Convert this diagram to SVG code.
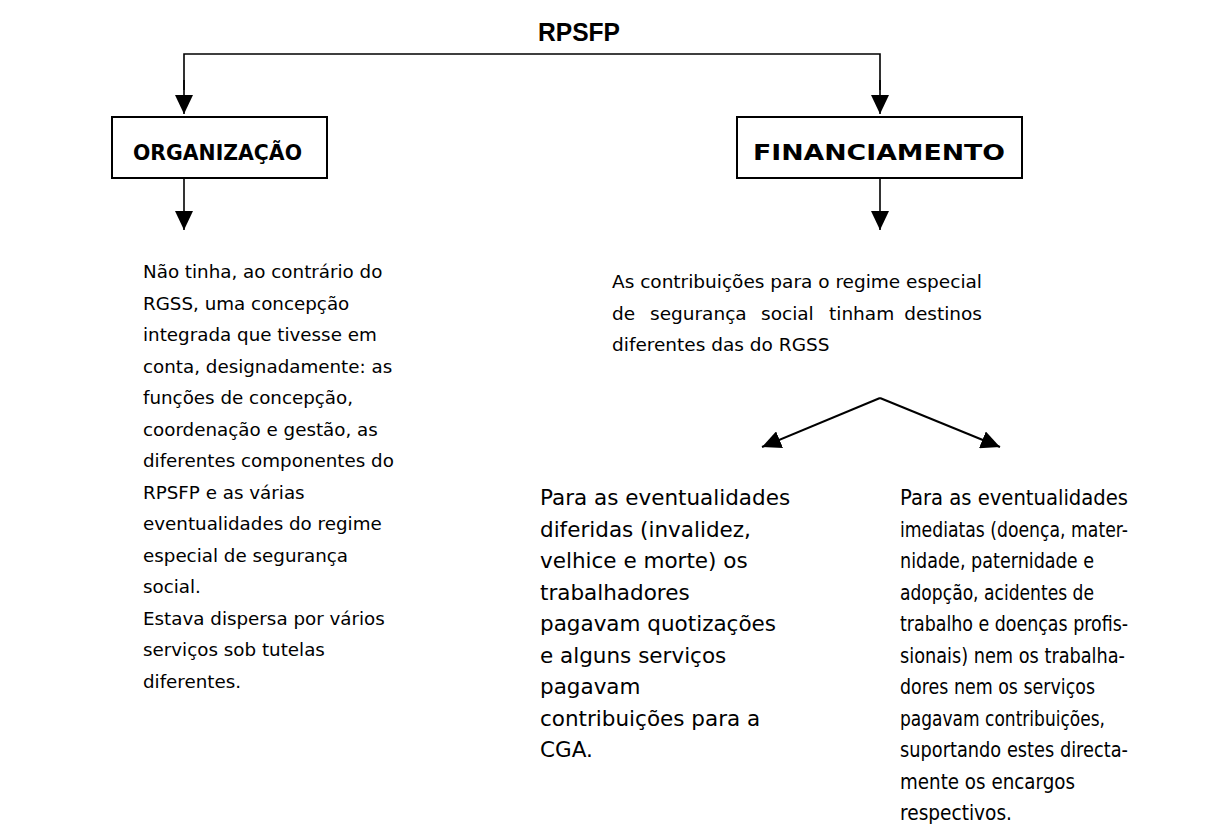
<svg xmlns="http://www.w3.org/2000/svg" width="1218" height="835" viewBox="0 0 1218 835">
<style>
.t{font-family:"DejaVu Sans","Noto Sans",sans-serif;font-size:18.3px;fill:#000}
.m{font-family:"DejaVu Sans","Noto Sans",sans-serif;font-size:18.5px;fill:#000}
.l{font-family:"DejaVu Sans","Noto Sans",sans-serif;font-size:21.5px;fill:#000}
.c{font-family:"DejaVu Sans","Noto Sans",sans-serif;font-size:21px;fill:#000}
.b{font-family:"DejaVu Sans","Noto Sans",sans-serif;font-size:22px;font-weight:bold;fill:#000}
.h{font-family:"Liberation Sans Narrow","Liberation Sans",sans-serif;font-size:26px;font-weight:bold;fill:#000}
.box{fill:#fff;stroke:#000;stroke-width:2}
.ln{fill:none;stroke:#000;stroke-width:1.6}
.ah{fill:#000}
</style>
<defs>
<marker id="arr" markerUnits="userSpaceOnUse" markerWidth="20" markerHeight="18" viewBox="0 0 20 18" refX="19" refY="9" orient="auto">
<path d="M0,0 L19,9 L0,18 Z" class="ah"/>
</marker>
</defs>
<g id="title"><text class="h" x="579" y="41" text-anchor="middle" textLength="82" lengthAdjust="spacingAndGlyphs">RPSFP</text></g>
<g id="connectors">
<path class="ln" d="M184,90 L184,54 L880,54 L880,90" />
<path class="ln" d="M184,80 L184,114" marker-end="url(#arr)"/>
<path class="ln" d="M880,80 L880,114" marker-end="url(#arr)"/>
<path class="ln" d="M184,178 L184,230" marker-end="url(#arr)"/>
<path class="ln" d="M880,178 L880,230" marker-end="url(#arr)"/>
<path class="ln" d="M880,398 L762,447" marker-end="url(#arr)" style="stroke-width:2"/>
<path class="ln" d="M880,398 L1000,447" marker-end="url(#arr)" style="stroke-width:2"/>
</g>
<g id="organizacao">
<rect class="box" x="112" y="117" width="215" height="61"/>
<text class="b" x="133" y="160" textLength="169" lengthAdjust="spacingAndGlyphs">ORGANIZAÇÃO</text>
</g>
<g id="financiamento">
<rect class="box" x="737" y="117" width="285" height="61"/>
<text class="b" x="753" y="160" textLength="252" lengthAdjust="spacingAndGlyphs">FINANCIAMENTO</text>
</g>
<g id="org-text">
<text class="t" x="143" y="278">Não tinha, ao contrário do</text>
<text class="t" x="143" y="309.5">RGSS, uma concepção</text>
<text class="t" x="143" y="341">integrada que tivesse em</text>
<text class="t" x="143" y="372.5">conta, designadamente: as</text>
<text class="t" x="143" y="404">funções de concepção,</text>
<text class="t" x="143" y="435.5">coordenação e gestão, as</text>
<text class="t" x="143" y="467">diferentes componentes do</text>
<text class="t" x="143" y="498.5">RPSFP e as várias</text>
<text class="t" x="143" y="530">eventualidades do regime</text>
<text class="t" x="143" y="561.5">especial de segurança</text>
<text class="t" x="143" y="593">social.</text>
<text class="t" x="143" y="624.5">Estava dispersa por vários</text>
<text class="t" x="143" y="656">serviços sob tutelas</text>
<text class="t" x="143" y="687.5">diferentes.</text>
</g>
<g id="fin-text">
<text class="m" x="612" y="288" textLength="370" lengthAdjust="spacing">As contribuições para o regime especial</text>
<text class="m" y="319.5"><tspan x="612">de</tspan><tspan x="650">segurança</tspan><tspan x="761">social</tspan><tspan x="829">tinham</tspan><tspan x="982" text-anchor="end">destinos</tspan></text>
<text class="m" x="612" y="351">diferentes das do RGSS</text>
</g>
<g id="diferidas">
<text class="l" x="540" y="505">Para as eventualidades</text>
<text class="l" x="540" y="536.5">diferidas (invalidez,</text>
<text class="l" x="540" y="568">velhice e morte) os</text>
<text class="l" x="540" y="599.5">trabalhadores</text>
<text class="l" x="540" y="631">pagavam quotizações</text>
<text class="l" x="540" y="662.5">e alguns serviços</text>
<text class="l" x="540" y="694">pagavam</text>
<text class="l" x="540" y="725.5">contribuições para a</text>
<text class="l" x="540" y="757">CGA.</text>
</g>
<g id="imediatas">
<text class="c" x="900" y="505" textLength="228" lengthAdjust="spacingAndGlyphs">Para as eventualidades</text>
<text class="c" x="900" y="536.5" textLength="228" lengthAdjust="spacingAndGlyphs">imediatas (doença, mater-</text>
<text class="c" x="900" y="568" textLength="194" lengthAdjust="spacingAndGlyphs">nidade, paternidade e</text>
<text class="c" x="900" y="599.5" textLength="194" lengthAdjust="spacingAndGlyphs">adopção, acidentes de</text>
<text class="c" x="900" y="631" textLength="228" lengthAdjust="spacingAndGlyphs">trabalho e doenças profis-</text>
<text class="c" x="900" y="662.5" textLength="225" lengthAdjust="spacingAndGlyphs">sionais) nem os trabalha-</text>
<text class="c" x="900" y="694" textLength="195" lengthAdjust="spacingAndGlyphs">dores nem os serviços</text>
<text class="c" x="900" y="725.5" textLength="205" lengthAdjust="spacingAndGlyphs">pagavam contribuições,</text>
<text class="c" x="900" y="757" textLength="228" lengthAdjust="spacingAndGlyphs">suportando estes directa-</text>
<text class="c" x="900" y="788.5" textLength="175" lengthAdjust="spacingAndGlyphs">mente os encargos</text>
<text class="c" x="900" y="820" textLength="112" lengthAdjust="spacingAndGlyphs">respectivos.</text>
</g>
</svg>
